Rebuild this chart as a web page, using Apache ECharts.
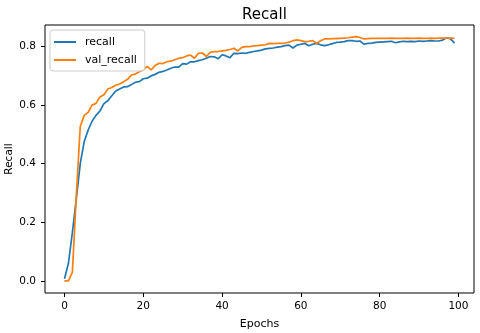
<!DOCTYPE html>
<html>
<head>
<meta charset="utf-8">
<script src="https://cdn.jsdelivr.net/npm/echarts@6/dist/echarts.min.js"></script>
<style>
  html, body { margin: 0; padding: 0; background: #fff; }
  #chart { width: 480px; height: 333px; }
</style>
</head>
<body>
<div id="chart"></div>
<script>
// epochs 0..99
const epochs = Array.from({ length: 100 }, (_, i) => i);

const recall = [
  0.007, 0.06, 0.165, 0.28, 0.40, 0.475, 0.515, 0.545, 0.565, 0.58,
  0.605, 0.615, 0.632, 0.648, 0.655, 0.662, 0.663, 0.67, 0.678, 0.68,
  0.69, 0.692, 0.70, 0.705, 0.712, 0.715, 0.72, 0.726, 0.73, 0.73,
  0.742, 0.74, 0.748, 0.748, 0.752, 0.755, 0.76, 0.766, 0.765, 0.758,
  0.772, 0.768, 0.762, 0.777, 0.776, 0.778, 0.777, 0.78, 0.783, 0.785,
  0.788, 0.792, 0.794, 0.795, 0.798, 0.80, 0.803, 0.805, 0.795, 0.805,
  0.808, 0.811, 0.803, 0.808, 0.811, 0.806, 0.803, 0.806, 0.81, 0.814,
  0.815, 0.817, 0.82, 0.82, 0.818, 0.819, 0.808, 0.811, 0.812, 0.814,
  0.815, 0.816, 0.817, 0.818, 0.813, 0.816, 0.818, 0.817, 0.818, 0.817,
  0.819, 0.818, 0.819, 0.82, 0.819, 0.819, 0.822, 0.83, 0.826, 0.812
];

const valRecall = [
  0.0, 0.0, 0.03, 0.29, 0.527, 0.565, 0.575, 0.60, 0.606, 0.628,
  0.635, 0.655, 0.66, 0.668, 0.672, 0.68, 0.688, 0.703, 0.706, 0.714,
  0.72, 0.732, 0.72, 0.735, 0.743, 0.742, 0.748, 0.75, 0.755, 0.76,
  0.762, 0.768, 0.771, 0.76, 0.777, 0.778, 0.766, 0.78, 0.783, 0.783,
  0.785, 0.787, 0.79, 0.794, 0.785, 0.797, 0.80, 0.80, 0.802, 0.803,
  0.805, 0.806, 0.811, 0.81, 0.811, 0.811, 0.812, 0.815, 0.82, 0.823,
  0.82, 0.817, 0.818, 0.82, 0.811, 0.82, 0.826, 0.826, 0.827, 0.827,
  0.828, 0.829, 0.83, 0.832, 0.834, 0.831, 0.826, 0.827, 0.828, 0.828,
  0.828, 0.828, 0.828, 0.829, 0.828, 0.828, 0.828, 0.829, 0.828, 0.828,
  0.829, 0.828, 0.828, 0.829, 0.828, 0.829, 0.829, 0.829, 0.829, 0.828
];

const xTicks = [0, 20, 40, 60, 80, 100];
const yTicks = [0, 0.2, 0.4, 0.6, 0.8];

const font = "DejaVu Sans";

const myChart = echarts.init(document.getElementById("chart"));

const option = {
  animation: false,
  title: {
    text: "Recall",
    left: 259.5,
    textAlign: "center",
    top: 3,
    textStyle: { fontFamily: font, fontSize: 15, fontWeight: "normal", color: "#000" },
  },
  legend: {
    orient: "vertical",
    left: 50,
    top: 30,
    itemWidth: 22,
    itemHeight: 2,
    itemGap: 4,
    padding: [5, 8, 4, 4],
    backgroundColor: "rgba(255,255,255,0.8)",
    borderColor: "#cccccc",
    borderWidth: 1,
    borderRadius: 3,
    textStyle: { fontFamily: font, fontSize: 11, lineHeight: 14, color: "#000", padding: [0, 0, 0, 4] },
    data: [
      { name: "recall", icon: "rect" },
      { name: "val_recall", icon: "rect" },
    ],
  },
  grid: {
    show: true,
    left: 45,
    right: 6,
    top: 25,
    bottom: 40,
    borderColor: "#000",
    borderWidth: 1,
    containLabel: false,
    outerBoundsMode: "none",
  },
  xAxis: {
    type: "value",
    min: -4.95,
    max: 103.95,
    name: "Epochs",
    nameLocation: "middle",
    nameGap: 26,
    nameMoveOverlap: false,
    nameTextStyle: { fontFamily: font, fontSize: 11, color: "#000" },
    axisLine: { show: false, onZero: false },
    splitLine: { show: false },
    axisTick: { show: true, inside: false, length: 4, customValues: xTicks, lineStyle: { color: "#000" } },
    axisLabel: {
      customValues: xTicks,
      fontFamily: font,
      fontSize: 10.5,
      color: "#000",
      margin: 8,
    },
  },
  yAxis: {
    type: "value",
    min: -0.0416,
    max: 0.8736,
    name: "Recall",
    nameLocation: "middle",
    nameGap: 30,
    nameMoveOverlap: false,
    nameTextStyle: { fontFamily: font, fontSize: 10.5, color: "#000" },
    axisLine: { show: false, onZero: false },
    splitLine: { show: false },
    axisTick: { show: true, inside: false, length: 4, customValues: yTicks, lineStyle: { color: "#000" } },
    axisLabel: {
      customValues: yTicks,
      fontFamily: font,
      fontSize: 10.5,
      color: "#000",
      margin: 9,
      formatter: (v) => v.toFixed(1),
    },
  },
  series: [
    {
      name: "recall",
      type: "line",
      data: epochs.map((e, i) => [e, recall[i]]),
      showSymbol: false,
      color: "#1f77b4",
      lineStyle: { width: 1.7 },
    },
    {
      name: "val_recall",
      type: "line",
      data: epochs.map((e, i) => [e, valRecall[i]]),
      showSymbol: false,
      color: "#ff7f0e",
      lineStyle: { width: 1.7 },
    },
  ],
};

myChart.setOption(option);
</script>
</body>
</html>
